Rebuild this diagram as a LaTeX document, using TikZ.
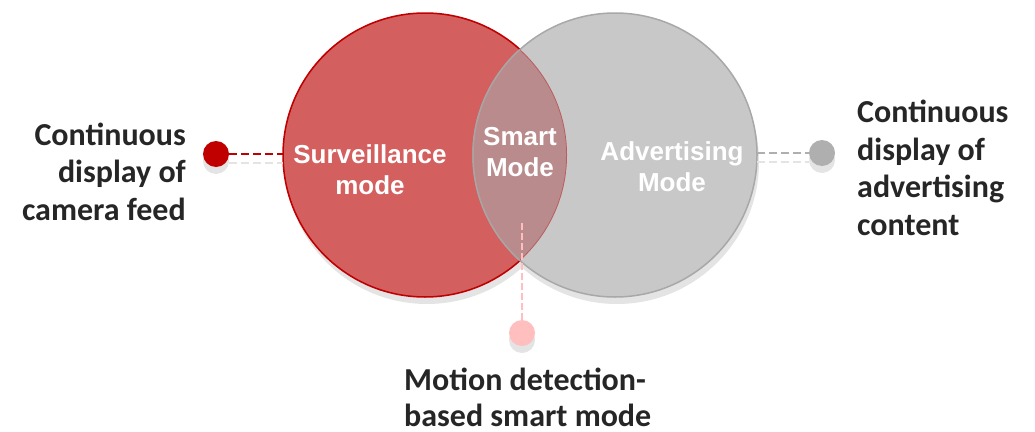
\documentclass[tikz,border=0pt]{standalone}
\usepackage{fontspec}
\setmainfont{Liberation Sans}
\newfontfamily\calibri{Carlito}
\definecolor{redfill}{HTML}{D45F5F}
\definecolor{redline}{HTML}{C00000}
\definecolor{grayfill}{HTML}{C8C8C8}
\definecolor{grayline}{HTML}{A8A8A8}
\definecolor{interfill}{HTML}{B98B8C}
\definecolor{shadowgray}{HTML}{E4E4E4}
\definecolor{dotgray}{HTML}{AFAFAF}
\definecolor{pinkdot}{HTML}{FFBFBF}
\definecolor{labeltext}{HTML}{262626}
\tikzset{
  bigcircle/.style={circle, minimum size=284pt, inner sep=0pt},
  dotnode/.style={circle, minimum size=26pt, inner sep=0pt},
  dotshadow/.style={circle, minimum size=26pt, inner sep=0pt, fill=shadowgray},
  circtext/.style={text=white, font=\bfseries\fontsize{26}{30.5}\selectfont, align=center, anchor=base, inner sep=0pt},
  labeltxt/.style={text=labeltext, font=\calibri\bfseries\fontsize{32}{37.5}\selectfont, inner sep=0pt},
  leader/.style={line width=2.5pt, dash pattern=on 8pt off 4pt},
}
\begin{document}
\begin{tikzpicture}[x=1pt,y=-1pt]
\useasboundingbox (0,0) rectangle (1035,431);
% shadows of circles
\fill[shadowgray] (427,162) circle[radius=142pt];
\fill[shadowgray] (617,162) circle[radius=142pt];
% circles
\node[bigcircle, fill=redfill, draw=redline, line width=1.5pt] (lc) at (425,155) {};
\node[bigcircle, fill=grayfill, draw=grayline, line width=1.5pt] (rc) at (615,155) {};
\begin{scope}
  \clip (425,155) circle[radius=142pt];
  \fill[interfill] (615,155) circle[radius=142pt];
  \draw[redline, opacity=0.35, line width=1.5pt] (425,155) circle[radius=142pt];
  \draw[grayline, opacity=0.8, line width=1.5pt] (615,155) circle[radius=142pt];
\end{scope}
% circle texts
\node[circtext] (surv) at (370,194) {Surveillance\\mode};
\node[circtext] (smart) at (520,176) {Smart\\Mode};
\node[circtext] (adv) at (672,191) {Advertising\\Mode};
% left dot and leader
\node[dotshadow] (ldotsh) at (216,161) {};
\node[dotnode, fill=redline] (ldot) at (216,154) {};
\coordinate (lend) at (283,154);
\coordinate (lshs) at (229,163);
\coordinate (lshe) at (283,163);
\draw[leader, shadowgray] (lshs) -- (lshe);
\draw[leader, redline] (ldot) -- (lend);
% right dot and leader
\node[dotshadow] (rdotsh) at (822,160) {};
\node[dotnode, fill=dotgray] (rdot) at (822,153) {};
\coordinate (rend) at (757,153);
\coordinate (rshs) at (757,162);
\coordinate (rshe) at (809,162);
\draw[leader, shadowgray] (rshs) -- (rshe);
\draw[leader, dotgray] (rend) -- (rdot);
% bottom dot and leader
\node[dotshadow] (bdotsh) at (522,340) {};
\node[dotnode, fill=pinkdot] (bdot) at (522,333) {};
\coordinate (bstart) at (522,223);
\draw[pinkdot, line width=2pt, dash pattern=on 7pt off 3pt] (bstart) -- (bdot);
% labels
\node[labeltxt, align=right, anchor=base east] (llab) at (186,220) {Continuous\\display of\\camera feed};
\node[labeltxt, align=left, anchor=base west] (rlab) at (857,235) {Continuous\\display of\\advertising\\content};
\node[labeltxt, align=left, anchor=base west, font=\calibri\bfseries\fontsize{32}{36}\selectfont] (blab) at (404,426) {Motion detection-\\based smart mode};
\end{tikzpicture}
\end{document}
